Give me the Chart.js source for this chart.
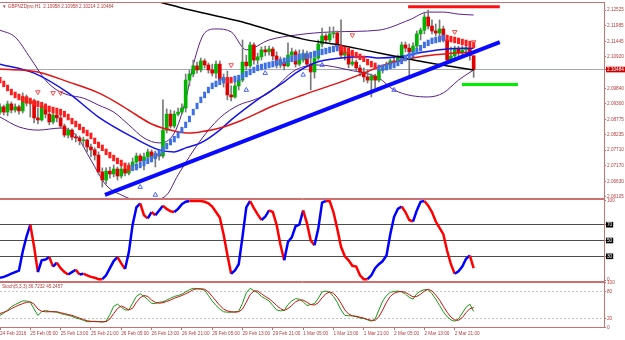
<!DOCTYPE html>
<html>
<head>
<meta charset="utf-8">
<title>GBPNZDpro,H1</title>
<script src="https://cdn.jsdelivr.net/npm/chart.js@4.4.1/dist/chart.umd.min.js"></script>
<style>
  html, body { margin: 0; padding: 0; background: #ffffff; overflow: hidden; }
  #wrap { width: 625px; height: 340px; }
</style>
</head>
<body>
<div id="wrap"><canvas id="chart" width="625" height="340"></canvas></div>
<script>
// ---- axis labels ----
const timeLabels = ['24 Feb 2016', '25 Feb 05:00', '25 Feb 13:00', '25 Feb 21:00', '26 Feb 05:00',
  '26 Feb 13:00', '26 Feb 21:00', '29 Feb 05:00', '29 Feb 13:00', '29 Feb 21:00', '1 Mar 05:00',
  '1 Mar 13:00', '1 Mar 21:00', '2 Mar 05:00', '2 Mar 13:00', '2 Mar 21:00'];
const timeTickBars = [0, 8, 16, 24, 32, 40, 48, 56, 64, 72, 80, 88, 96, 104, 112, 120];
const priceTicks = [2.12525, 2.11985, 2.11445, 2.10920, 2.10484, 2.09840, 2.09300, 2.08775,
  2.08235, 2.07710, 2.07170, 2.06630, 2.06105];
const bidPrice = 2.10484;
const oscTicks = [100, 70, 50, 30, 0];
const oscLevels = [70, 50, 30];
const stochTicks = [100, 80, 20, 0];
const stochLevels = [80, 20];
const titleText = '\u25BC GBPNZDpro,H1  2.10958 2.10958 2.10214 2.10484';
const stochText = 'Stoch(5,3,3) 36.7232 45.2457';

// ---- H1 candles ----
const open = [
  2.0902, 2.0920, 2.0902, 2.0930, 2.0909, 2.0920, 2.0906, 2.0954, 2.0933, 2.0940,
  2.0882, 2.0875, 2.0923, 2.0895, 2.0868, 2.0892, 2.0882, 2.0854, 2.0823, 2.0840,
  2.0816, 2.0813, 2.0803, 2.0806, 2.0782, 2.0772, 2.0754, 2.0696, 2.0668, 2.0699,
  2.0689, 2.0706, 2.0682, 2.0706, 2.0692, 2.0717, 2.0730, 2.0751, 2.0734, 2.0748,
  2.0765, 2.0744, 2.0758, 2.0751, 2.0840, 2.0895, 2.0854, 2.0895, 2.0902, 2.0916,
  2.1012, 2.1033, 2.1061, 2.1047, 2.1078, 2.1064, 2.1047, 2.1036, 2.1067, 2.1012,
  2.1019, 2.0961, 2.0954, 2.0992, 2.1012, 2.1074, 2.1061, 2.1133, 2.1081, 2.1092,
  2.1116, 2.1109, 2.1119, 2.1095, 2.1064, 2.1074, 2.1061, 2.1098, 2.1109, 2.1067,
  2.1081, 2.1102, 2.1067, 2.1040, 2.1088, 2.1136, 2.1164, 2.1150, 2.1171, 2.1174,
  2.1126, 2.1098, 2.1109, 2.1067, 2.1074, 2.1054, 2.1040, 2.1023, 2.1012, 2.1026,
  2.1012, 2.1047, 2.1054, 2.1064, 2.1078, 2.1074, 2.1088, 2.1133, 2.1122, 2.1109,
  2.1129, 2.1171, 2.1184, 2.1229, 2.1198, 2.1181, 2.1174, 2.1188, 2.1150, 2.1081,
  2.1095, 2.1119, 2.1105, 2.1116, 2.1122, 2.10958];
const high = [
  2.0930, 2.0926, 2.0940, 2.0937, 2.0930, 2.0926, 2.0968, 2.0961, 2.0950, 2.0947,
  2.0916, 2.0933, 2.0930, 2.0902, 2.0902, 2.0906, 2.0892, 2.0861, 2.0847, 2.0844,
  2.0827, 2.0820, 2.0816, 2.0809, 2.0792, 2.0779, 2.0765, 2.0710, 2.0710, 2.0713,
  2.0720, 2.0713, 2.0720, 2.0717, 2.0727, 2.0744, 2.0761, 2.0758, 2.0761, 2.0775,
  2.0772, 2.0768, 2.0772, 2.0944, 2.0913, 2.0909, 2.0906, 2.0916, 2.0930, 2.1033,
  2.1047, 2.1081, 2.1074, 2.1088, 2.1085, 2.1071, 2.1067, 2.1078, 2.1078, 2.1033,
  2.1043, 2.0992, 2.1006, 2.1023, 2.1150, 2.1098, 2.1143, 2.1140, 2.1105, 2.1126,
  2.1129, 2.1129, 2.1126, 2.1109, 2.1092, 2.1088, 2.1140, 2.1122, 2.1116, 2.1116,
  2.1116, 2.1112, 2.1095, 2.1098, 2.1150, 2.1191, 2.1171, 2.1195, 2.1195, 2.1181,
  2.1219, 2.1126, 2.1119, 2.1098, 2.1081, 2.1064, 2.1054, 2.1047, 2.1033, 2.1033,
  2.1057, 2.1064, 2.1074, 2.1085, 2.1092, 2.1098, 2.1143, 2.1143, 2.1136, 2.1140,
  2.1181, 2.1191, 2.1246, 2.1253, 2.1219, 2.1205, 2.1219, 2.1198, 2.1160, 2.1126,
  2.1129, 2.1129, 2.1129, 2.1136, 2.1143, 2.10958];
const low = [
  2.0895, 2.0892, 2.0889, 2.0899, 2.0902, 2.0895, 2.0899, 2.0923, 2.0885, 2.0865,
  2.0861, 2.0871, 2.0882, 2.0858, 2.0861, 2.0868, 2.0847, 2.0816, 2.0813, 2.0806,
  2.0799, 2.0789, 2.0782, 2.0765, 2.0748, 2.0737, 2.0686, 2.0644, 2.0655, 2.0675,
  2.0679, 2.0668, 2.0675, 2.0682, 2.0686, 2.0703, 2.0703, 2.0717, 2.0703, 2.0727,
  2.0730, 2.0713, 2.0737, 2.0744, 2.0830, 2.0847, 2.0847, 2.0889, 2.0895, 2.0902,
  2.0992, 2.1023, 2.1036, 2.1040, 2.1054, 2.1036, 2.1026, 2.1019, 2.0999, 2.0988,
  2.0944, 2.0940, 2.0950, 2.0978, 2.1006, 2.1047, 2.1054, 2.1067, 2.1067, 2.1081,
  2.1095, 2.1098, 2.1081, 2.1054, 2.1054, 2.1047, 2.1057, 2.1088, 2.1057, 2.1061,
  2.1074, 2.1061, 2.0978, 2.1019, 2.1081, 2.1126, 2.1140, 2.1143, 2.1157, 2.1116,
  2.1088, 2.1081, 2.1054, 2.1061, 2.1043, 2.1026, 2.1006, 2.1002, 2.0954, 2.0985,
  2.1006, 2.1036, 2.1047, 2.1057, 2.1064, 2.1067, 2.1081, 2.1109, 2.1023, 2.1088,
  2.1116, 2.1150, 2.1171, 2.1188, 2.1171, 2.1164, 2.1160, 2.1143, 2.1071, 2.1071,
  2.1088, 2.1095, 2.1095, 2.1102, 2.1081, 2.10214];
const close = [
  2.0920, 2.0902, 2.0930, 2.0909, 2.0920, 2.0906, 2.0954, 2.0933, 2.0940, 2.0882,
  2.0875, 2.0923, 2.0895, 2.0868, 2.0892, 2.0882, 2.0854, 2.0823, 2.0840, 2.0816,
  2.0813, 2.0803, 2.0806, 2.0782, 2.0772, 2.0754, 2.0696, 2.0668, 2.0699, 2.0689,
  2.0706, 2.0682, 2.0706, 2.0692, 2.0717, 2.0730, 2.0751, 2.0734, 2.0748, 2.0765,
  2.0744, 2.0758, 2.0751, 2.0840, 2.0895, 2.0854, 2.0895, 2.0902, 2.0916, 2.1012,
  2.1033, 2.1061, 2.1047, 2.1078, 2.1064, 2.1047, 2.1036, 2.1067, 2.1012, 2.1019,
  2.0961, 2.0954, 2.0992, 2.1012, 2.1074, 2.1061, 2.1133, 2.1081, 2.1092, 2.1116,
  2.1109, 2.1119, 2.1095, 2.1064, 2.1074, 2.1061, 2.1098, 2.1109, 2.1067, 2.1081,
  2.1102, 2.1067, 2.1040, 2.1088, 2.1136, 2.1164, 2.1150, 2.1171, 2.1174, 2.1126,
  2.1098, 2.1109, 2.1067, 2.1074, 2.1054, 2.1040, 2.1023, 2.1012, 2.1026, 2.1012,
  2.1047, 2.1054, 2.1064, 2.1078, 2.1074, 2.1088, 2.1133, 2.1122, 2.1109, 2.1129,
  2.1171, 2.1184, 2.1229, 2.1198, 2.1181, 2.1174, 2.1188, 2.1150, 2.1081, 2.1095,
  2.1119, 2.1105, 2.1116, 2.1122, 2.1096, 2.10484];

// ---- trend dashes (1 = rising/blue, 0 = falling/red) ----
const trendDots = [
  2.1012, 2.0999, 2.0985, 2.0971, 2.0961, 2.0954, 2.0947, 2.0944, 2.0940, 2.0933,
  2.0930, 2.0926, 2.0920, 2.0913, 2.0909, 2.0906, 2.0902, 2.0895, 2.0885, 2.0871,
  2.0861, 2.0851, 2.0840, 2.0830, 2.0820, 2.0803, 2.0789, 2.0779, 2.0765, 2.0754,
  2.0744, 2.0734, 2.0727, 2.0717, 2.0710, 2.0710, 2.0713, 2.0720, 2.0727, 2.0734,
  2.0741, 2.0751, 2.0761, 2.0772, 2.0785, 2.0799, 2.0809, 2.0823, 2.0840, 2.0858,
  2.0878, 2.0902, 2.0923, 2.0944, 2.0961, 2.0978, 2.0992, 2.0999, 2.1006, 2.1012,
  2.1012, 2.1012, 2.1016, 2.1019, 2.1026, 2.1033, 2.1040, 2.1047, 2.1054, 2.1057,
  2.1061, 2.1064, 2.1067, 2.1071, 2.1074, 2.1078, 2.1081, 2.1085, 2.1088, 2.1092,
  2.1095, 2.1095, 2.1098, 2.1102, 2.1105, 2.1109, 2.1112, 2.1116, 2.1119, 2.1122,
  2.1122, 2.1116, 2.1112, 2.1105, 2.1098, 2.1092, 2.1085, 2.1074, 2.1067, 2.1061,
  2.1054, 2.1054, 2.1057, 2.1061, 2.1064, 2.1071, 2.1078, 2.1088, 2.1095, 2.1102,
  2.1112, 2.1122, 2.1133, 2.1140, 2.1147, 2.1150, 2.1153, 2.1157, 2.1157, 2.1153,
  2.1150, 2.1147, 2.1143, 2.1140, 2.1136, 2.1133];
const trendUp = [
  0, 0, 0, 0, 0, 0, 0, 0, 0, 0, 0, 0, 0, 0, 0, 0, 0, 0, 0, 0,
  0, 0, 0, 0, 0, 0, 0, 0, 0, 0, 0, 0, 0, 0, 0, 1, 1, 1, 1, 1,
  1, 1, 1, 1, 1, 1, 1, 1, 1, 1, 1, 1, 1, 1, 1, 1, 1, 1, 1, 1,
  0, 0, 1, 1, 1, 1, 1, 1, 1, 1, 1, 1, 1, 1, 1, 1, 1, 1, 1, 1,
  1, 1, 1, 1, 1, 1, 1, 1, 1, 1, 0, 0, 0, 0, 0, 0, 0, 0, 0, 0,
  1, 1, 1, 1, 1, 1, 1, 1, 1, 1, 1, 1, 1, 1, 1, 1, 1, 1, 0, 0,
  0, 0, 0, 0, 0, 0];

// ---- moving averages and bands: [bar, price] ----
const blackMA = [[36, 2.1302], [40, 2.1288], [44, 2.1274], [48, 2.1260], [56, 2.1236], [64, 2.1212],
  [72, 2.1181], [80, 2.1153], [88, 2.1136], [96, 2.1116], [104, 2.1095], [112, 2.1074],
  [120, 2.1057], [125, 2.1047]];
const redMA = [[0, 2.1050], [10, 2.1040], [18, 2.1006], [26, 2.0968], [31, 2.0933], [36, 2.0892],
  [40, 2.0861], [46, 2.0837], [50, 2.0830], [53, 2.0834], [58, 2.0847], [64, 2.0875],
  [72, 2.0923], [80, 2.0961], [90, 2.1006], [96, 2.1036], [100, 2.1057], [104, 2.1074],
  [112, 2.1095], [120, 2.1105], [125, 2.1109]];
const blueMA = [[0, 2.1067], [9, 2.1036], [18, 2.0968], [26, 2.0885], [35, 2.0816], [42, 2.0772],
  [46, 2.0765], [49, 2.0779], [53, 2.0796], [58, 2.0840], [61, 2.0875], [69, 2.0954],
  [75, 2.1006], [78, 2.1036], [83, 2.1071], [90, 2.1088], [97, 2.1092], [100, 2.1088],
  [105, 2.1092], [112, 2.1109], [118, 2.1119], [125, 2.1122]];
const bandUpper = [[0, 2.1184], [4, 2.1160], [8, 2.1088], [12, 2.1012], [15, 2.0978], [18, 2.0961],
  [22, 2.0950], [26, 2.0926], [30, 2.0902], [34, 2.0858], [38, 2.0813], [42, 2.0796],
  [46, 2.0830], [49, 2.0944], [51, 2.1064], [54, 2.1174], [57, 2.1188], [61, 2.1178],
  [65, 2.1116], [71, 2.1150], [78, 2.1167], [88, 2.1178], [100, 2.1184], [108, 2.1219],
  [113, 2.1246], [117, 2.1246], [121, 2.1239], [125, 2.1236]];
const bandLower = [[0, 2.0885], [5, 2.0851], [10, 2.0840], [16, 2.0847], [20, 2.0823], [24, 2.0737],
  [28, 2.0651], [32, 2.0617], [36, 2.0600], [40, 2.0600], [44, 2.0617], [47, 2.0686],
  [53, 2.0806], [58, 2.0882], [63, 2.0926], [67, 2.0944], [71, 2.0968], [78, 2.1047],
  [84, 2.1064], [92, 2.1047], [100, 2.1019], [104, 2.0978], [113, 2.0954], [117, 2.0968],
  [121, 2.1012], [125, 2.1047]];

// ---- drawn objects ----
const trendLine = [[27.7, 2.0617], [131.9, 2.1143]];
const resistLine = [[107.7, 2.1264], [131.9, 2.1264]];
const supportLine = [[121.9, 2.0997], [136.7, 2.0997]];
const bidLine = [[0, bidPrice], [159.4, bidPrice]];
const upArrows = [[37, 2.0644], [41, 2.0617], [65, 2.0978], [70, 2.1036], [80, 2.1030], [85, 2.1064], [104, 2.0978]];
const downArrows = [[10, 2.0971], [14, 2.0968], [16, 2.0968], [61, 2.1064], [93, 2.1167], [120, 2.1178], [125, 2.1143]];

// ---- oscillator pane ----
const osc = [
  3, 4, 6, 8, 10, 12, 36, 55, 70, 42, 10, 25, 26, 29, 17, 22, 15, 10, 7, 10,
  13, 7, 8, 6, 4, 3, 1, 1, 6, 15, 24, 29, 21, 14, 35, 70, 92, 97, 82, 78,
  86, 82, 88, 94, 90, 87, 86, 90, 96, 99, 100, 100, 100, 100, 99, 97, 93, 86, 79, 58,
  32, 8, 12, 20, 55, 92, 100, 91, 83, 76, 80, 88, 86, 70, 45, 25, 48, 54, 68, 70,
  88, 72, 50, 44, 65, 98, 100, 100, 86, 65, 42, 30, 25, 18, 17, 6, 1, 1, 6, 15,
  20, 24, 31, 58, 80, 90, 93, 86, 76, 74, 88, 99, 100, 94, 86, 74, 66, 58, 37, 20,
  8, 11, 17, 27, 31, 15];

// ---- Stoch(5,3,3) ----
const stochK = [
  28, 33, 40, 47, 52, 56, 60, 60, 57, 42, 28, 36, 39, 37, 36, 35, 32, 30, 28, 26,
  22, 20, 17, 14, 14, 15, 14, 13, 15, 30, 48, 53, 46, 40, 40, 55, 70, 76, 70, 63,
  55, 54, 57, 58, 62, 66, 70, 72, 75, 80, 85, 88, 87, 86, 84, 72, 60, 50, 42, 36,
  35, 35, 36, 37, 55, 78, 88, 83, 78, 70, 65, 60, 50, 40, 38, 39, 52, 60, 65, 64,
  58, 50, 52, 54, 66, 80, 82, 79, 70, 57, 40, 28, 27, 27, 25, 22, 21, 18, 15, 20,
  40, 60, 72, 79, 81, 82, 80, 75, 68, 64, 76, 82, 85, 85, 76, 64, 50, 36, 25, 18,
  15, 20, 33, 46, 53, 36.7];
const stochD = [
  32, 35, 38, 43, 47, 51, 54, 57, 58, 53, 42, 37, 36, 36, 36, 36, 34, 32, 30, 28,
  25, 22, 19, 16, 15, 14, 14, 14, 14, 20, 32, 43, 49, 45, 40, 44, 57, 67, 72, 70,
  62, 57, 55, 56, 59, 62, 66, 69, 72, 76, 80, 85, 87, 87, 86, 80, 70, 60, 50, 42,
  38, 36, 35, 36, 42, 57, 74, 82, 82, 76, 70, 65, 58, 50, 43, 39, 43, 50, 58, 62,
  62, 57, 52, 51, 56, 67, 76, 80, 77, 68, 55, 40, 31, 27, 26, 24, 22, 19, 17, 17,
  25, 40, 57, 70, 77, 80, 81, 79, 74, 69, 70, 75, 82, 86, 82, 73, 62, 48, 35, 24,
  18, 17, 23, 34, 43, 45.2];

// ---- styling ----
const AXIS_COLOR = '#cf7070';
const TEXT_COLOR = '#b43c3c';
const CLEAR = 'rgba(0,0,0,0)';
const tickFont = { family: '"Liberation Sans", Arial, sans-serif', size: 4.7 };

const bars = close.map((_, i) => i);
const toXY = pts => pts.map(([x, y]) => ({ x, y }));
const series = arr => bars.map(i => ({ x: i, y: arr[i] }));

function priceLine(points, color, width, order, extra) {
  return Object.assign({
    type: 'line', yAxisID: 'y', data: toXY(points),
    borderColor: color, borderWidth: width, pointRadius: 0,
    cubicInterpolationMode: 'monotone', fill: false, order
  }, extra || {});
}

function paneAxis(weight, min, max, tickValues, extra) {
  return Object.assign({
    type: 'linear', position: 'right', stack: 'panes', stackWeight: weight,
    min, max,
    border: { display: false },
    ticks: { autoSkip: false, padding: 1, font: tickFont, color: TEXT_COLOR },
    afterBuildTicks: s => { s.ticks = tickValues.map(value => ({ value })); },
    afterFit: s => { s.width = 21; s.paddingTop = 0; s.paddingBottom = 0; }
  }, extra);
}

// pane frames and caption texts, like the terminal window
const terminalFrame = {
  id: 'terminalFrame',
  afterDraw(chart) {
    const { ctx, chartArea } = chart;
    const l = chartArea.left, r = Math.round(chartArea.right) + 0.5;
    ctx.save();
    ctx.strokeStyle = AXIS_COLOR;
    ctx.lineWidth = 1;
    ctx.beginPath();
    ['y', 'yOsc', 'yStoch'].forEach(id => {
      const s = chart.scales[id];
      const t = Math.round(s.top) + 0.5, b = Math.round(s.bottom) - 0.5;
      ctx.moveTo(l, t); ctx.lineTo(r, t);
      ctx.moveTo(l, b); ctx.lineTo(r, b);
    });
    ctx.moveTo(r, chartArea.top);
    ctx.lineTo(r, chartArea.bottom);
    ctx.stroke();
    ctx.fillStyle = TEXT_COLOR;
    ctx.textBaseline = 'top';
    ctx.font = '4.6px "Liberation Sans", Arial, sans-serif';
    ctx.fillText(titleText, 2, chart.scales.y.top + 2);
    ctx.fillText(stochText, 2, chart.scales.yStoch.top + 2);
    ctx.restore();
  }
};

new Chart(document.getElementById('chart'), {
  type: 'line',
  data: {
    datasets: [
      priceLine(bidLine, '#a4abb6', 1, 20, { cubicInterpolationMode: 'default' }),
      priceLine(bandUpper, '#5a1e8c', 1, 15),
      priceLine(bandLower, '#5a1e8c', 1, 15),
      {
        type: 'bar', yAxisID: 'y', grouped: false, order: 12,
        data: bars.map(i => ({ x: i, y: [low[i], high[i]] })),
        barThickness: 1, backgroundColor: '#7a7a7a'
      },
      {
        type: 'bar', yAxisID: 'y', grouped: false, order: 11, minBarLength: 1,
        data: bars.map(i => ({ x: i, y: [open[i], close[i]] })),
        barThickness: 3,
        backgroundColor: c => close[c.dataIndex] >= open[c.dataIndex] ? '#00b400' : '#e00000'
      },
      priceLine(blackMA, '#000000', 1.5, 8),
      priceLine(redMA, '#e41414', 1.5, 8),
      priceLine(blueMA, '#1414e6', 1.5, 8),
      {
        type: 'line', yAxisID: 'y', order: 5, showLine: false,
        data: series(trendDots),
        pointStyle: 'line', pointRotation: 90, pointRadius: 3.2, pointBorderWidth: 3,
        pointBorderColor: c => trendUp[c.dataIndex] ? '#3d6fe6' : '#ff1c1c'
      },
      {
        type: 'line', yAxisID: 'y', order: 4, showLine: false, data: toXY(upArrows),
        pointStyle: 'triangle', pointRadius: 2.6, pointBorderWidth: 1,
        pointBorderColor: '#4a63ff', pointBackgroundColor: CLEAR
      },
      {
        type: 'line', yAxisID: 'y', order: 4, showLine: false, data: toXY(downArrows),
        pointStyle: 'triangle', pointRotation: 180, pointRadius: 2.6, pointBorderWidth: 1,
        pointBorderColor: '#ff4a4a', pointBackgroundColor: CLEAR
      },
      priceLine(resistLine, '#ff1010', 3, 2, { cubicInterpolationMode: 'default' }),
      priceLine(supportLine, '#00ee00', 3, 2, { cubicInterpolationMode: 'default' }),
      priceLine(trendLine, '#0a0aff', 4, 1, { cubicInterpolationMode: 'default' }),
      {
        type: 'line', yAxisID: 'yOsc', order: 1, data: series(osc),
        borderWidth: 2.5, pointRadius: 0, borderColor: '#ff0000',
        segment: { borderColor: s => s.p1.parsed.y > s.p0.parsed.y ? '#0000ff' : '#ff0000' }
      },
      {
        type: 'line', yAxisID: 'yStoch', order: 1, data: series(stochD),
        borderWidth: 1, pointRadius: 0, borderColor: '#cc1111'
      },
      {
        type: 'line', yAxisID: 'yStoch', order: 1, data: series(stochK),
        borderWidth: 1, pointRadius: 0, borderColor: '#159915'
      }
    ]
  },
  options: {
    responsive: false,
    devicePixelRatio: 1,
    animation: false,
    events: [],
    layout: { autoPadding: false, padding: { top: 2, left: 0, right: 0, bottom: 0 } },
    plugins: { legend: { display: false }, tooltip: { enabled: false } },
    scales: {
      x: {
        type: 'linear', min: 0, max: 159.4, offset: false,
        border: { display: false },
        grid: { drawOnChartArea: false, tickLength: 2, tickColor: AXIS_COLOR, offset: false },
        ticks: {
          autoSkip: false, maxRotation: 0, minRotation: 0, align: 'start', padding: 1,
          font: tickFont, color: TEXT_COLOR,
          callback: (v, i) => timeLabels[i]
        },
        afterBuildTicks: s => { s.ticks = timeTickBars.map(value => ({ value })); },
        afterFit: s => { s.height = 12; s.paddingLeft = 0; s.paddingRight = 0; }
      },
      y: paneAxis(197, 2.0603, 2.12807, priceTicks, {
        grid: { drawOnChartArea: false, tickLength: 2, tickColor: AXIS_COLOR },
        ticks: {
          autoSkip: false, padding: 1, font: tickFont,
          color: c => c.tick && c.tick.value === bidPrice ? '#ffffff' : TEXT_COLOR,
          showLabelBackdrop: true,
          backdropColor: c => c.tick && c.tick.value === bidPrice ? '#c80000' : CLEAR,
          backdropPadding: { top: 0, bottom: 0, left: 1, right: 2 },
          callback: v => v.toFixed(5)
        }
      }),
      yOsc: paneAxis(83, -2.5, 102.5, oscTicks, {
        grid: {
          drawOnChartArea: true, tickLength: 2, tickColor: AXIS_COLOR,
          color: c => c.tick && oscLevels.includes(c.tick.value) ? '#4d4d4d' : CLEAR
        },
        ticks: {
          autoSkip: false, padding: 1, font: tickFont,
          color: c => c.tick && oscLevels.includes(c.tick.value) ? '#ffffff' : TEXT_COLOR,
          showLabelBackdrop: true,
          backdropColor: c => c.tick && oscLevels.includes(c.tick.value) ? '#000000' : CLEAR,
          backdropPadding: { top: 0, bottom: 0, left: 1, right: 1 },
          callback: v => String(v)
        }
      }),
      yStoch: paneAxis(46, 0, 102, stochTicks, {
        border: { display: false, dash: [2, 2] },
        grid: {
          drawOnChartArea: true, tickLength: 2, tickColor: AXIS_COLOR,
          color: c => c.tick && stochLevels.includes(c.tick.value) ? '#c4c4c4' : CLEAR
        },
        ticks: { autoSkip: false, padding: 1, font: tickFont, color: TEXT_COLOR, callback: v => String(v) }
      })
    }
  },
  plugins: [terminalFrame]
});
</script>
</body>
</html>
